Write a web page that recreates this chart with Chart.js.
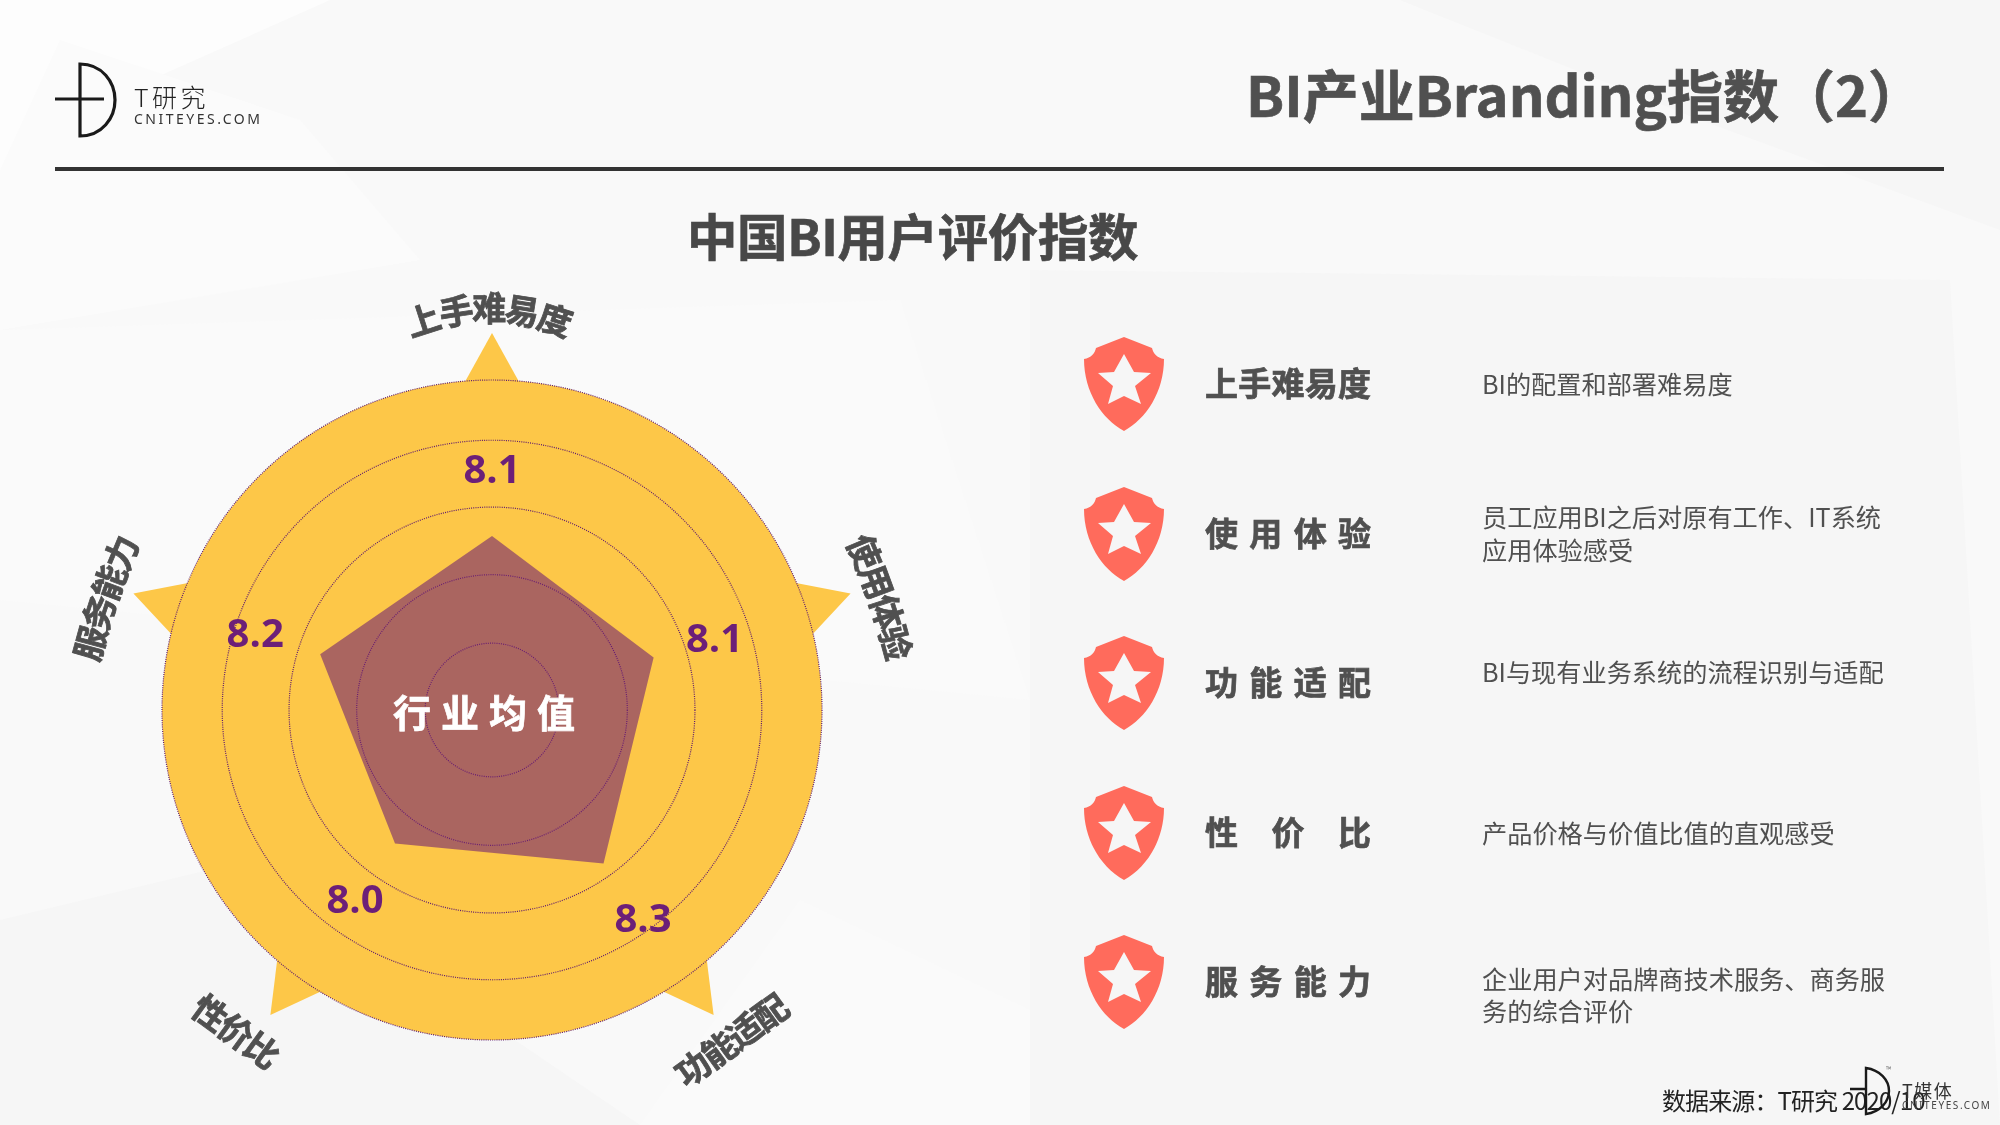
<!DOCTYPE html>
<html>
<head>
<meta charset="utf-8">
<script src="https://cdn.jsdelivr.net/npm/chart.js@4"></script>
<style>
  html, body { margin: 0; padding: 0; }
  body { width: 2000px; height: 1125px; overflow: hidden; position: relative; background: #f8f8f8;
         font-family: "Noto Sans CJK SC", "Noto Sans", sans-serif; color: #505050; }
  .abs { position: absolute; white-space: nowrap; line-height: 1; }
  #bg, #chart { position: absolute; left: 0; top: 0; }
  .heavy { font-weight: 700; -webkit-text-stroke: 0.7px currentColor; }
  .name { position: absolute; left: 1205px; width: 166px; font-size: 33px; line-height: 40px;
          text-align: justify; text-align-last: justify; white-space: nowrap; }
  .desc { position: absolute; left: 1482px; width: 460px; font-size: 25.2px; line-height: 32.5px; white-space: nowrap; }
  .shield { position: absolute; left: 1084px; }
</style>
</head>
<body>
<svg id="bg" width="2000" height="1125">
  <rect width="2000" height="1125" fill="#f9f9f9"/>
  <polygon points="0,0 330,0 60,120 0,200" fill="#fdfdfd"/>
  <polygon points="60,40 300,120 420,260 0,330 0,170" fill="#fbfbfb"/>
  <polygon points="1400,0 2000,0 2000,230 1700,120" fill="#f6f6f6"/>
  <polygon points="1030,270 1950,280 2000,1125 1030,1125" fill="#f6f6f6"/>
  <polygon points="0,330 900,300 1030,700 0,600" fill="#fafafa"/>
  <polygon points="0,920 250,860 640,1125 0,1125" fill="#f6f6f6"/>
  <polygon points="800,900 1030,1010 1030,1125 640,1125" fill="#fafafa"/>
</svg>
<canvas id="chart" width="2000" height="1125"></canvas>

<svg class="abs" style="left:50px;top:58px" width="75" height="84" fill="none" stroke="#1a1a1a" stroke-width="3.2">
  <path d="M5 41H54M30 6V78C52 78 65 60 65 42S52 6 30 6Z"/>
</svg>
<div class="abs" style="left:134px;top:84px;font-size:25px;letter-spacing:3.5px;font-weight:300;color:#222">T研究</div>
<div class="abs" style="left:134px;top:112px;font-size:14px;letter-spacing:2.5px;color:#333;font-family:'Noto Sans'">CNITEYES.COM</div>
<div class="abs" style="left:55px;top:167px;width:1889px;height:4px;background:#333"></div>
<div class="abs heavy" style="right:76px;top:65px;font-size:56px">BI产业Branding指数（2）</div>
<div class="abs heavy" style="left:687px;top:210px;font-size:50.4px;letter-spacing:-.3px;color:#484848">中国BI用户评价指数</div>
<div class="abs heavy" style="left:393px;top:692px;font-size:38px;letter-spacing:10px;color:#fff">行业均值</div>
<div id="rows"></div>
<div class="abs" style="left:1662px;top:1088px;font-size:24px;letter-spacing:-.9px;color:#222">数据来源：T研究 2020/10</div>
<svg class="abs" style="left:1846px;top:1064px" width="50" height="54" fill="none" stroke="#1a1a1a" stroke-width="2.4">
  <path d="M4 25H20M20 4V50C34 48 43 38 43 27S34 6 20 4Z"/>
</svg>
<div class="abs" style="left:1886px;top:1066px;font-size:7px;color:#666">™</div>
<div class="abs" style="left:1902px;top:1081px;font-size:18px;letter-spacing:1.5px;color:#333">T媒体</div>
<div class="abs" style="left:1902px;top:1100px;font-size:10px;letter-spacing:1.6px;color:#444;font-family:'Noto Sans'">CNITEYES.COM</div>

<script>
// axes of the radar, clockwise from the top
const categories = ['上手难易度', '使用体验', '功能适配', '性价比', '服务能力'];
const seriesValues = [8.11, 8.06, 8.3, 8.0, 8.19];
const ringValues = [6, 6.81, 7.64, 8.46, 9.27, 10];
const axisMin = 6;
const axisMax = 10;
const tipValue = 10.57; // where the star points end

// table on the right
const rowNames = ['上手难易度', '使 用 体 验', '功 能 适 配', '性 价 比', '服 务 能 力'];
const rowDescs = [
  ['BI的配置和部署难易度'],
  ['员工应用BI之后对原有工作、IT系统', '应用体验感受'],
  ['BI与现有业务系统的流程识别与适配'],
  ['产品价格与价值比值的直观感受'],
  ['企业用户对品牌商技术服务、商务服', '务的综合评价']
];
const descShift = [0, 0, -11, 0, 13];

// label placement around the radar
const valueRadius = [241, 234, 257, 233, 249];
const labelRadius = [402, 406, 408, 411, 404];
const labelTurn = [-0.4, 1.8, 0, 2.5, -1.8];
const labelRot = [0, 71, -36, 36, -71];
const labelSpread = [9, 2.5, 0, 0, 2.5];
const labelStep = [33, 32, 32, 32, 32];

const YELLOW = '#fdc748';
const PURPLE = '#6c1f78';

const rows = document.getElementById('rows');
const shield = '<path fill="#ff6b5c" d="M40 0L68 11C69 16 73 21 80 22C80 55 62 82 40 94C18 82 0 55 0 22C7 21 11 16 12 11Z"/>' +
  '<path fill="#f6f6f6" d="M40 17L50 35L67 36L51 49L57 67L40 59L24 67L29 49L14 36L30 35Z"/>';
rowNames.forEach((name, i) => {
  const cy = 384 + i * 149.6;
  rows.insertAdjacentHTML('beforeend',
    `<svg class="shield" style="top:${cy - 47}px" width="80" height="94">${shield}</svg>` +
    `<div class="name heavy" style="top:${cy - 22}px">${name}</div>` +
    `<div class="desc" style="top:${cy - rowDescs[i].length * 16.25 - 1 + descShift[i]}px">${rowDescs[i].join('<br>')}</div>`);
});

const starTips = {
  id: 'starTips',
  beforeDraw(chart) {
    const scale = chart.scales.r;
    const ctx = chart.ctx;
    const tipDist = scale.getDistanceFromCenterForValue(tipValue);
    ctx.save();
    ctx.fillStyle = YELLOW;
    categories.forEach((c, i) => {
      const tip = scale.getPointPosition(i, tipDist);
      const a = scale.getPointPosition(i, tipDist - 67, -0.124);
      const b = scale.getPointPosition(i, tipDist - 67, 0.124);
      ctx.beginPath();
      ctx.moveTo(tip.x, tip.y);
      ctx.lineTo(a.x, a.y);
      ctx.lineTo(b.x, b.y);
      ctx.closePath();
      ctx.fill();
    });
    ctx.restore();
  }
};

// value numbers and the arced axis names
const radarText = {
  id: 'radarText',
  afterDraw(chart) {
    const scale = chart.scales.r;
    const ctx = chart.ctx;
    ctx.save();
    ctx.textAlign = 'center';
    ctx.textBaseline = 'middle';
    ctx.fillStyle = PURPLE;
    ctx.font = '700 40px "Open Sans"';
    seriesValues.forEach((v, i) => {
      const p = scale.getPointPosition(i, valueRadius[i]);
      ctx.fillText(v.toFixed(1), p.x, p.y + 3);
    });
    ctx.fillStyle = ctx.strokeStyle = '#505050';
    ctx.lineWidth = 0.8;
    ctx.font = '700 34px "Noto Sans CJK SC"';
    categories.forEach((name, i) => {
      const p = scale.getPointPosition(i, labelRadius[i], labelTurn[i] * Math.PI / 180);
      const chars = name.split('');
      ctx.save();
      ctx.translate(p.x, p.y);
      ctx.rotate(labelRot[i] * Math.PI / 180);
      chars.forEach((ch, k) => {
        const off = k - (chars.length - 1) / 2;
        ctx.save();
        ctx.translate(off * labelStep[i], off * off * labelSpread[i] / 3);
        ctx.rotate(off * labelSpread[i] * Math.PI / 180);
        ctx.fillText(ch, 0, 0);
        ctx.strokeText(ch, 0, 0);
        ctx.restore();
      });
      ctx.restore();
    });
    ctx.restore();
  }
};

new Chart(document.getElementById('chart').getContext('2d'), {
  type: 'radar',
  data: {
    labels: categories,
    datasets: [{
      data: seriesValues,
      backgroundColor: 'rgba(112, 32, 114, 0.59)',
      borderWidth: 0,
      pointRadius: 0,
      fill: true
    }]
  },
  options: {
    responsive: false,
    animation: false,
    layout: { padding: { left: 162, right: 1178, top: 380, bottom: 85 } },
    plugins: { legend: { display: false }, tooltip: { enabled: false } },
    scales: {
      r: {
        min: axisMin,
        max: axisMax,
        backgroundColor: YELLOW,
        afterBuildTicks: axis => { axis.ticks = ringValues.map(v => ({ value: v })); },
        ticks: { display: false },
        pointLabels: { display: false },
        angleLines: { display: false },
        grid: { circular: true, color: '#5e1a6e', lineWidth: 1.2 },
        border: { dash: [1, 1.2] }
      }
    }
  },
  plugins: [starTips, radarText]
});
</script>
</body>
</html>
